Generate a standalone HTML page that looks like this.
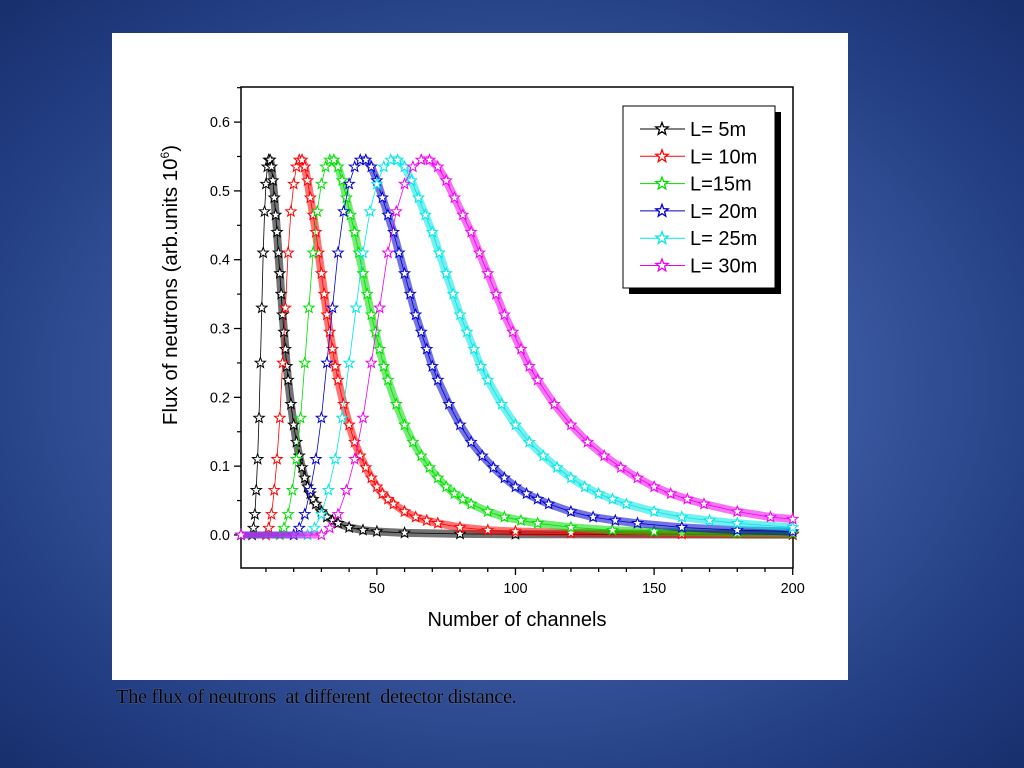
<!DOCTYPE html>
<html><head><meta charset="utf-8">
<style>
html,body{margin:0;padding:0;}
body{width:1024px;height:768px;overflow:hidden;background:radial-gradient(ellipse at 50% 50%,#4d6db3 0%,#3a58a0 45%,#213c80 80%,#182f6c 100%);position:relative;font-family:"Liberation Sans",sans-serif;}
#card{position:absolute;left:112px;top:33px;width:736px;height:647px;background:#fff;}
#caption{position:absolute;left:116px;top:686px;font-family:"Liberation Serif",serif;font-size:20.5px;color:#000;letter-spacing:-0.4px;white-space:pre;text-shadow:0 0 1px rgba(255,255,255,0.5);}
</style></head>
<body>
<div id="card">
<svg id="chart" width="736" height="647" viewBox="112 33 736 647" style="position:absolute;left:0;top:0">
<g id="axes"></g>
<g id="series"></g>
<g id="legend"></g>
</svg>
</div>
<div id="caption">The flux of neutrons  at different  detector distance.</div>
<script>
const xTicks=[50,100,150,200];
const yTicks=[0.0,0.1,0.2,0.3,0.4,0.5,0.6];
const seriesNames=["L= 5m","L= 10m","L=15m","L= 20m","L= 25m","L= 30m"];
const seriesColors=["#000000","#ff0000","#00dd00","#0000cc","#00e5e5","#ee00ee"];
const ch_L5=[1,5,5.5,6,6.5,7,7.5,8,8.5,9,9.5,10,10.5,11,11.5,12,12.5,13,13.5,14,14.5,15,15.5,16,16.5,17,17.5,18,19,20,21,22,23,24,25,26,27,28,30,32,34,36,40,45,50,60,80,100,200];
const flux_L5=[0,0,0.01,0.03,0.065,0.11,0.17,0.25,0.33,0.41,0.47,0.51,0.535,0.545,0.545,0.535,0.515,0.49,0.465,0.44,0.41,0.38,0.35,0.32,0.295,0.27,0.245,0.225,0.19,0.16,0.135,0.115,0.098,0.083,0.07,0.06,0.052,0.045,0.034,0.026,0.021,0.017,0.011,0.007,0.005,0.003,0.0015,0.001,0.0005];
const ch_L10=[1,10,11,12,13,14,15,16,17,18,19,20,21,22,23,24,25,26,27,28,29,30,31,32,33,34,35,36,38,40,42,44,46,48,50,52,54,56,60,64,68,72,80,90,100,120,160,200];
const flux_L10=[0,0,0.01,0.03,0.065,0.11,0.17,0.25,0.33,0.41,0.47,0.51,0.535,0.545,0.545,0.535,0.515,0.49,0.465,0.44,0.41,0.38,0.35,0.32,0.295,0.27,0.245,0.225,0.19,0.16,0.135,0.115,0.098,0.083,0.07,0.06,0.052,0.045,0.034,0.026,0.021,0.017,0.011,0.007,0.005,0.003,0.0015,0.001];
const ch_L15=[1,15,16.5,18,19.5,21,22.5,24,25.5,27,28.5,30,31.5,33,34.5,36,37.5,39,40.5,42,43.5,45,46.5,48,49.5,51,52.5,54,57,60,63,66,69,72,75,78,81,84,90,96,102,108,120,135,150,180,200];
const flux_L15=[0,0,0.01,0.03,0.065,0.11,0.17,0.25,0.33,0.41,0.47,0.51,0.535,0.545,0.545,0.535,0.515,0.49,0.465,0.44,0.41,0.38,0.35,0.32,0.295,0.27,0.245,0.225,0.19,0.16,0.135,0.115,0.098,0.083,0.07,0.06,0.052,0.045,0.034,0.026,0.021,0.017,0.011,0.007,0.005,0.003,0.0025];
const ch_L20=[1,20,22,24,26,28,30,32,34,36,38,40,42,44,46,48,50,52,54,56,58,60,62,64,66,68,70,72,76,80,84,88,92,96,100,104,108,112,120,128,136,144,160,180,200];
const flux_L20=[0,0,0.01,0.03,0.065,0.11,0.17,0.25,0.33,0.41,0.47,0.51,0.535,0.545,0.545,0.535,0.515,0.49,0.465,0.44,0.41,0.38,0.35,0.32,0.295,0.27,0.245,0.225,0.19,0.16,0.135,0.115,0.098,0.083,0.07,0.06,0.052,0.045,0.034,0.026,0.021,0.017,0.011,0.007,0.005];
const ch_L25=[1,25,27.5,30,32.5,35,37.5,40,42.5,45,47.5,50,52.5,55,57.5,60,62.5,65,67.5,70,72.5,75,77.5,80,82.5,85,87.5,90,95,100,105,110,115,120,125,130,135,140,150,160,170,180,200];
const flux_L25=[0,0,0.01,0.03,0.065,0.11,0.17,0.25,0.33,0.41,0.47,0.51,0.535,0.545,0.545,0.535,0.515,0.49,0.465,0.44,0.41,0.38,0.35,0.32,0.295,0.27,0.245,0.225,0.19,0.16,0.135,0.115,0.098,0.083,0.07,0.06,0.052,0.045,0.034,0.026,0.021,0.017,0.011];
const ch_L30=[1,30,33,36,39,42,45,48,51,54,57,60,63,66,69,72,75,78,81,84,87,90,93,96,99,102,105,108,114,120,126,132,138,144,150,156,162,168,180,192,200];
const flux_L30=[0,0,0.01,0.03,0.065,0.11,0.17,0.25,0.33,0.41,0.47,0.51,0.535,0.545,0.545,0.535,0.515,0.49,0.465,0.44,0.41,0.38,0.35,0.32,0.295,0.27,0.245,0.225,0.19,0.16,0.135,0.115,0.098,0.083,0.07,0.06,0.052,0.045,0.034,0.026,0.023];
const seriesCh=[ch_L5,ch_L10,ch_L15,ch_L20,ch_L25,ch_L30];
const seriesFlux=[flux_L5,flux_L10,flux_L15,flux_L20,flux_L25,flux_L30];

const NS="http://www.w3.org/2000/svg";
const PL=241,PR=793,PT=87,PB=568;
const X0=1,X1=200.1,Y0=-0.048,Y1=0.651;
function sx(v){return PL+(v-X0)/(X1-X0)*(PR-PL);}
function sy(v){return PB-(v-Y0)/(Y1-Y0)*(PB-PT);}
function mk(tag,attrs,parent){const e=document.createElementNS(NS,tag);for(const k in attrs)e.setAttribute(k,attrs[k]);parent.appendChild(e);return e;}
function starPts(cx,cy,r){let p=[];for(let i=0;i<10;i++){const a=-Math.PI/2+i*Math.PI/5;const rr=i%2?r*0.42:r;p.push((cx+rr*Math.cos(a)).toFixed(1)+","+(cy+rr*Math.sin(a)).toFixed(1));}return p.join(" ");}

const axes=document.getElementById('axes');
let fr=mk('rect',{x:PL,y:PT,width:PR-PL,height:PB-PT,fill:'none',stroke:'#000','stroke-width':1.5},axes);


yTicks.forEach(v=>{
  const t=mk('line',{x1:PL-7,x2:PL,y1:sy(v),y2:sy(v),stroke:'#000','stroke-width':1.3},axes);
  
  
  const m=mk('line',{x1:PL-4,x2:PL,y1:sy(v+0.05),y2:sy(v+0.05),stroke:'#000','stroke-width':1.2},axes);
  
  
  const l=mk('text',{x:PL-11,y:sy(v)+5,'text-anchor':'end','font-size':14.5,fill:'#000'},axes);
  l.textContent=v.toFixed(1);
  
  
});
for(let v=10;v<=200;v+=10){
  const major=xTicks.includes(v);
  const t=mk('line',{x1:sx(v),x2:sx(v),y1:PB,y2:PB+(major?7:4),stroke:'#000','stroke-width':1.3},axes);
  
  
}
xTicks.forEach(v=>{
  const l=mk('text',{x:sx(v),y:PB+25,'text-anchor':'middle','font-size':14.5,fill:'#000'},axes);
  l.textContent=v;
  
  
});
const xt=mk('text',{x:517,y:626,'text-anchor':'middle','font-size':20,fill:'#000'},axes);
xt.textContent='Number of channels';


const yt=mk('text',{x:0,y:0,'text-anchor':'middle','font-size':20.5,fill:'#000',transform:'translate(177,285) rotate(-90)'},axes);
yt.innerHTML='Flux of neutrons (arb.units 10<tspan dy="-8" font-size="12">6</tspan><tspan dy="8">)</tspan>';



const sg=document.getElementById('series');
seriesCh.forEach((xs,si)=>{
  const ys=seriesFlux[si];const col=seriesColors[si];
  const g=mk('g',{},sg);
  
  
  let peak=0;ys.forEach((v,i)=>{if(v>ys[peak])peak=i;});
  const pts=xs.map((x,i)=>sx(x).toFixed(1)+","+sy(ys[i]).toFixed(1));
  const lead=mk('polyline',{points:pts.slice(0,2).join(" "),fill:'none',stroke:col,'stroke-width':7,'stroke-opacity':0.55},g);
  
  
  const band=mk('polyline',{points:pts.slice(peak).join(" "),fill:'none',stroke:col,'stroke-width':8,'stroke-opacity':0.55,'stroke-linejoin':'round'},g);
  
  
  const ln=mk('polyline',{points:pts.join(" "),fill:'none',stroke:col,'stroke-width':0.8},g);
  
  
  xs.forEach((x,i)=>{
    const s=mk('polygon',{points:starPts(sx(x),sy(ys[i]),5.5),fill:'#fff',stroke:col,'stroke-width':1},g);
    
    
  });
});

const lg=document.getElementById('legend');
const lgBox=mk('g',{},lg);


mk('rect',{x:629,y:112,width:152,height:182,fill:'#000'},lgBox);
mk('rect',{x:623,y:106,width:152,height:182,fill:'#fff',stroke:'#000','stroke-width':1},lgBox);
seriesNames.forEach((n,i)=>{
  const y=129+i*27.3;
  const e=mk('g',{},lgBox);
  
  
  mk('line',{x1:640,x2:685,y1:y,y2:y,stroke:seriesColors[i],'stroke-width':1},e);
  mk('polygon',{points:starPts(662,y,6.5),fill:'#fff',stroke:seriesColors[i],'stroke-width':1.3},e);
  const t=mk('text',{x:690,y:y+7,'font-size':20,fill:'#000'},e);
  t.textContent=n;
});
</script>
</body></html>
